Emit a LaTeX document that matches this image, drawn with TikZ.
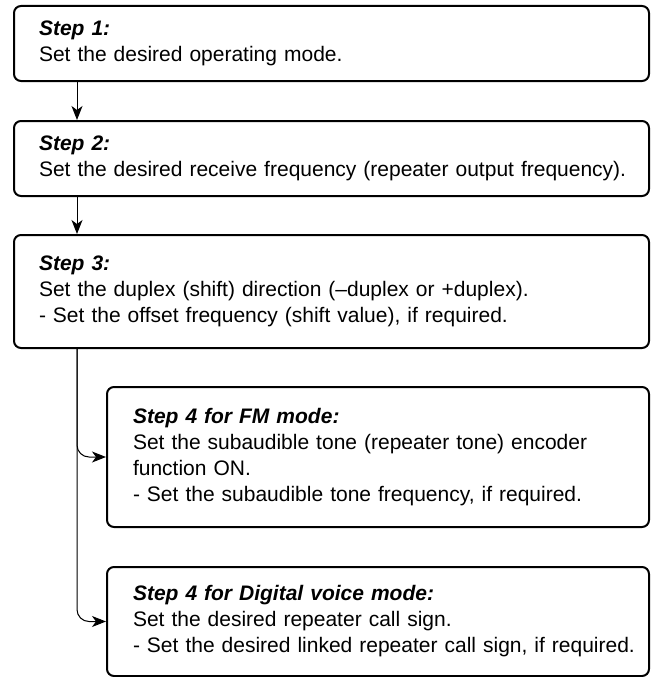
\documentclass[tikz,border=0pt]{standalone}
\usepackage{fontspec}
\setmainfont{Liberation Sans}
\usetikzlibrary{arrows.meta,positioning}
\newcommand{\steptitle}[1]{\textbf{\textit{#1}}}

\begin{document}
\begin{tikzpicture}[x=1pt, y=-1pt,
            stepbox/.style={draw, line width=2pt, rounded corners=7pt, anchor=north west, align=left, inner xsep=25pt, inner ysep=0pt, font=\fontsize{21}{26}\selectfont},
            widebox/.style={stepbox, minimum width=635pt, text width=585pt},
            modebox/.style={stepbox, inner xsep=26pt, minimum width=542pt, text width=490pt},
            conn/.style={-{Stealth[length=14pt, width=11pt, inset=4pt]}, line width=1pt}
        ]
            \useasboundingbox (0,0) rectangle (652,677);
            \coordinate (spine) at (77,0);
            % main steps
            \node[widebox, minimum height=75pt]  (step1)  at (13, 5)   {\steptitle{Step 1:}\\Set the desired operating mode.};
            \node[widebox, minimum height=75pt]  (step2)  at (13, 120) {\steptitle{Step 2:}\\\mbox{Set the desired receive frequency (repeater output frequency).}};
            \node[widebox, minimum height=113pt] (step3)  at (13, 234) {\steptitle{Step 3:}\\Set the duplex (shift) direction (--duplex or +duplex).\\- Set the offset frequency (shift value), if required.};
            % mode dependent steps
            \node[modebox, minimum height=140pt] (stepfm) at (106, 386) {\steptitle{Step 4 for FM mode:}\\\mbox{Set the subaudible tone (repeater tone) encoder}\\function ON.\\\mbox{- Set the subaudible tone frequency, if required.}};
            \node[modebox, minimum height=109pt] (stepdv) at (106, 566) {\steptitle{Step 4 for Digital voice mode:}\\Set the desired repeater call sign.\\\mbox{- Set the desired linked repeater call sign, if required.}};
            \draw[conn] (step1.south -| spine) -- (step2.north -| spine);
            \draw[conn] (step2.south -| spine) -- (step3.north -| spine);
            \draw[conn, rounded corners=12pt] (step3.south -| spine) |- (stepfm.west);
            \draw[conn, rounded corners=12pt] (step3.south -| spine) |- (stepdv.west);
        \end{tikzpicture}
\end{document}
